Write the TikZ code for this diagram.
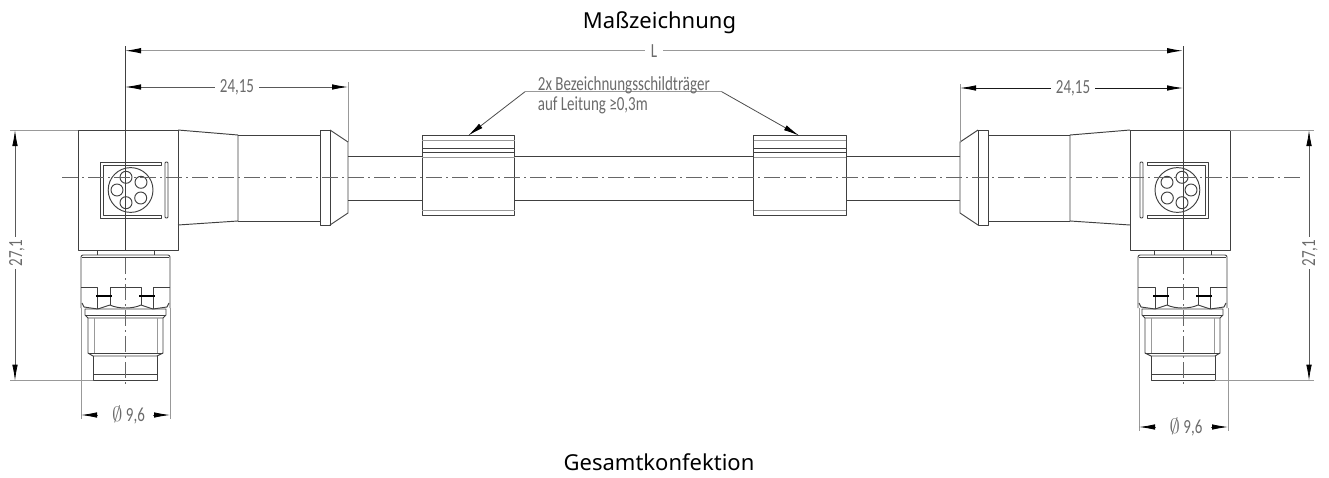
\documentclass[tikz,border=0pt]{standalone}
\usepackage{fontspec}
\setmainfont{Noto Sans}
\newfontfamily\normfont[FakeStretch=0.75]{Carlito}
\usetikzlibrary{arrows.meta}
\definecolor{masscolor}{gray}{0.42}
\tikzset{
	kontur/.style={line width=0.95pt,draw=black!75},
	achse/.style={line width=0.8pt,draw=black!75},
	duenn/.style={line width=0.9pt,draw=black!40},
	mittel/.style={line width=0.8pt,draw=black!60,dash pattern=on 16pt off 4pt on 2pt off 4pt},
	masspfeil/.style={line width=0.8pt,draw=black!65,{Latex[length=16pt,width=5.5pt,black]}-{Latex[length=16pt,width=5.5pt,black]}},
	einpfeil/.style={line width=0.8pt,draw=black!70,-{Latex[length=16pt,width=5.5pt,black]}},
	masstext/.style={text=masscolor,font=\normfont\fontsize{20}{22}\selectfont,inner sep=0pt},
	titel/.style={text=black,font=\fontsize{22}{26}\selectfont,inner sep=0pt,anchor=base}
}
\begin{document}
\begin{tikzpicture}[x=1pt,y=-1pt,line join=round]
	\useasboundingbox (0,0) rectangle (1329,477);
	\node[titel] (titeloben) at (659.5,28) {Maßzeichnung};
	\node[titel] (titelunten) at (659,470) {Gesamtkonfektion};
	% beide Stecker, rechts gespiegelt
	\foreach \sx/\ox in {1/0,-1/1308}{
	\begin{scope}[xshift=\ox pt,xscale=\sx]
		\draw[kontur] (78,130) rectangle (178,250);
		\draw[kontur] (178,130) -- (238,135) -- (238,221) -- (178,225);
		\draw[kontur] (238,135) -- (320,135) (238,221) -- (320,221);
		\draw[kontur] (320,130) rectangle (330,225);
		\draw[kontur] (330,130) -- (348,142) -- (348,213) -- (330,225);
		\draw[kontur] (348,156) -- (422,156) (348,200) -- (422,200);
		% Buchsenbild
		\draw[kontur] (161,162) -- (100,162) -- (100,218) -- (161,218) -- (161,215) -- (103,215) -- (103,165) -- (161,165) -- cycle;
		\draw[kontur,rounded corners=1pt] (165,162) rectangle (168,218);
		\draw[kontur] (130.6,190) circle (22.4);
		\foreach \px/\py in {126/177.3,141/182.3,140.7/198,126/202.7,117/190}
			\draw[kontur] (\px,\py) circle (6);
		% Abgang nach unten
		\draw[kontur] (97,250) -- (97,255) (154,250) -- (154,255);
		\draw[kontur,rounded corners=2pt] (81,308) -- (81,255) -- (170,255) -- (170,308);
		\draw[kontur] (82,257.5) -- (169,257.5);
		\draw[kontur] (82,303) -- (84,307) -- (97.7,309) (169,303) -- (167,307) -- (153,309);
		\draw[kontur] (81,287) -- (97.7,287) -- (97.7,309) (170,287) -- (153,287) -- (153,309);
		\draw[kontur] (110,305) -- (110,287) -- (141,287) -- (141,305);
		\draw[kontur] (97.7,309) -- (110,305) .. controls (118,309) and (133,309) .. (141,305) -- (153,309);
		\draw[line width=1.2pt] (96,296) -- (112,296) (139,296) -- (155,296);
		\draw[kontur] (85,309) -- (166,309) -- (166,315) -- (163,318) -- (88,318) -- (85,315) -- cycle;
		\draw[kontur] (85,315) -- (166,315);
		\draw[kontur] (88,318) -- (88,353) -- (93,356) -- (157,356) -- (163,353) -- (163,318);
		\draw[kontur] (88,353) -- (163,353);
		\draw[duenn] (94,318) -- (94,353) (157,318) -- (157,353);
		\draw[kontur] (93,356) -- (93,380.7) -- (157,380.7) -- (157,356);
		\draw[kontur] (93,374) -- (157,374);
		\draw[mittel] (125,258) -- (125,386);
	\end{scope}
	}
	\draw[achse] (125,46) -- (125,250);
	\draw[achse] (1183,46) -- (1183,250);
	% Bezeichnungsschildtraeger
	\foreach \tx in {422,753.5}{
		\draw[kontur,fill=white] (\tx,135.7) rectangle (\tx+92.5,215);
		\draw[duenn] (\tx,140.7) -- (\tx+92.5,140.7) (\tx,157.3) -- (\tx+92.5,157.3) (\tx,210) -- (\tx+92.5,210);
		\draw[kontur] (\tx,148) -- (\tx+92.5,148) (\tx,152.7) -- (\tx+92.5,152.7);
	}
	\draw[kontur] (514.5,156) -- (753.5,156) (514.5,200) -- (753.5,200);
	\draw[kontur] (846,156) -- (960,156) (846,200) -- (960,200);
	\draw[mittel] (62,177.3) -- (1302,177.3);
	% Hinweis
	\coordinate (knickl) at (525,91.7);
	\coordinate (knickr) at (721.7,91.7);
	\coordinate (zielL) at (468,135.7);
	\coordinate (zielR) at (799.3,135.7);
	\draw[duenn] (knickl) -- (knickr);
	\draw[einpfeil] (knickl) -- (zielL);
	\draw[einpfeil] (knickr) -- (zielR);
	\node[masstext,anchor=base west] (hinweisa) at (537.7,90) {2x Bezeichnungsschildträger};
	\node[masstext,anchor=base west] (hinweisb) at (537.7,110.5) {auf Leitung ≥0,3m};
	% Masse
	\draw[masspfeil,draw=black!40,line width=1pt] (125,50.7) -- (1183,50.7);
	\node[masstext,fill=white,minimum width=18pt,inner ysep=2pt] (massL) at (654,50.7) {L};
	\draw[duenn] (348,82) -- (348,142) (960,84) -- (960,142);
	\draw[masspfeil] (125,87) -- (348,87);
	\node[masstext,fill=white,inner xsep=5pt,inner ysep=2pt] (massa) at (237,87) {24,15};
	\draw[masspfeil,draw=black!90] (960,88) -- (1183,88);
	\node[masstext,fill=white,inner xsep=5pt,inner ysep=2pt] (massb) at (1073,88) {24,15};
	\draw[duenn] (10,130) -- (78,130) (10,380.7) -- (93,380.7);
	\draw[duenn] (1230,130) -- (1314,130) (1215,380.7) -- (1314,380.7);
	\draw[masspfeil] (15,130) -- (15,380.7);
	\draw[masspfeil] (1309,130) -- (1309,380.7);
	\node[masstext,fill=white,rotate=90,inner xsep=3pt,inner ysep=1pt] (massc) at (17,253) {27,1};
	\node[masstext,fill=white,rotate=90,inner xsep=3pt,inner ysep=1pt] (massd) at (1310,253) {27,1};
	\draw[duenn] (81,308) -- (81,419) (170,308) -- (170,419);
	\draw[duenn] (1139,308) -- (1139,431) (1228,308) -- (1228,431);
	\draw[masspfeil,{Latex[length=16pt,width=5.5pt,black]}-] (81,415) -- (98,415);
	\draw[masspfeil,-{Latex[length=16pt,width=5.5pt,black]}] (153,415) -- (170,415);
	\draw[masspfeil,{Latex[length=16pt,width=5.5pt,black]}-] (1139,427) -- (1156,427);
	\draw[masspfeil,-{Latex[length=16pt,width=5.5pt,black]}] (1211,427) -- (1228,427);
	\node[masstext] (massdl) at (128.5,415) {$\emptyset$ 9,6};
	\node[masstext] (massdr) at (1186,427) {$\emptyset$ 9,6};
\end{tikzpicture}
\end{document}
